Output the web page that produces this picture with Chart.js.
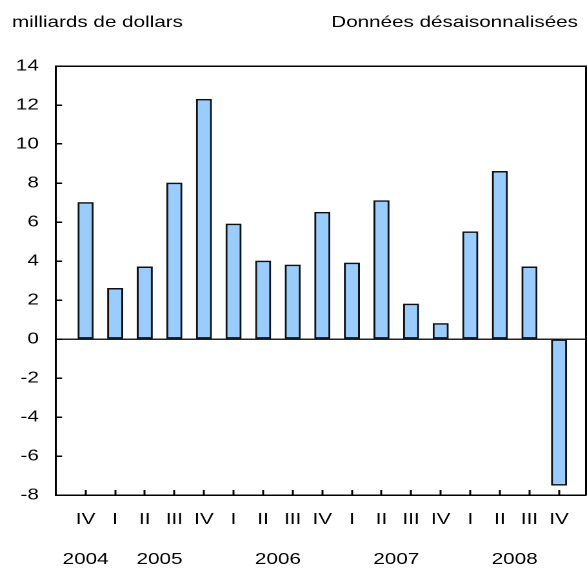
<!DOCTYPE html>
<html>
<head>
<meta charset="utf-8">
<script src="https://cdn.jsdelivr.net/npm/chart.js@4.4.1/dist/chart.umd.min.js"></script>
<style>
    html, body { margin: 0; padding: 0; background: #fff; overflow: hidden; }
    /* le graphique d'origine est étiré horizontalement */
    #wrap { width: 455px; height: 585px; transform: scaleX(1.29); transform-origin: 0 0; }
</style>
</head>
<body>
<div id="wrap"><canvas id="chartSolde" width="455" height="585"></canvas></div>
<script>
const quarters = ['IV', 'I', 'II', 'III', 'IV', 'I', 'II', 'III', 'IV', 'I', 'II', 'III', 'IV', 'I', 'II', 'III', 'IV'];
const periodYear = [2004, 2005, 2005, 2005, 2005, 2006, 2006, 2006, 2006, 2007, 2007, 2007, 2007, 2008, 2008, 2008, 2008];
const values = [7.0, 2.6, 3.7, 8.0, 12.3, 5.9, 4.0, 3.8, 6.5, 3.9, 7.1, 1.8, 0.8, 5.5, 8.6, 3.7, -7.5];
const yTicks = [-8, -6, -4, -2, 0, 2, 4, 6, 8, 10, 12, 14];
const unitLabel = 'milliards de dollars';
const noteLabel = 'Données désaisonnalisées';

const FONT = { family: '"Liberation Sans", Arial, sans-serif', size: 16 };
const INK = '#000';

// position centrale de chaque année sous ses trimestres
const years = [...new Set(periodYear)];
const yearPos = years.map(y => {
    const idx = periodYear.map((p, i) => p === y ? i + 1 : null).filter(v => v !== null);
    return idx.reduce((a, b) => a + b, 0) / idx.length;
});

const headerText = {
    id: 'headerText',
    afterDraw(chart) {
        const ctx = chart.ctx;
        ctx.save();
        ctx.font = FONT.size + 'px ' + FONT.family;
        ctx.fillStyle = INK;
        ctx.textBaseline = 'alphabetic';
        ctx.textAlign = 'left';
        ctx.fillText(unitLabel, 9.3, 27);
        ctx.textAlign = 'right';
        ctx.fillText(noteLabel, 448, 27);
        ctx.restore();
    }
};

// pas de marge automatique sur les axes horizontaux
const noPad = h => s => { s.height = h; s.paddingLeft = 0; s.paddingRight = 0; };

const hiddenEdge = (pos, extra) => Object.assign({
    position: pos,
    min: 0, max: 1,
    ticks: { display: false },
    grid: { drawOnChartArea: false, drawTicks: false },
    border: { display: true, color: INK, width: 1.5 }
}, extra);

new Chart(document.getElementById('chartSolde').getContext('2d'), {
    type: 'bar',
    data: {
        datasets: [{
            label: 'Solde',
            data: values.map((v, i) => ({ x: i + 1, y: v })),
            backgroundColor: '#99ccff',
            borderColor: '#111',
            borderWidth: 1.5,
            borderSkipped: false,
            barThickness: 11.8,
            xAxisID: 'x',
            yAxisID: 'y'
        }]
    },
    options: {
        responsive: false,
        devicePixelRatio: 2,
        animation: false,
        layout: { padding: { top: 66, right: 1, bottom: 15, left: 0 } },
        plugins: { legend: { display: false }, tooltip: { enabled: false } },
        scales: {
            x: {
                type: 'linear',
                position: 'bottom',
                weight: 0,
                offset: false,
                min: 0, max: 17.9,
                afterBuildTicks: s => { s.ticks = quarters.map((q, i) => ({ value: i + 1 })); },
                afterFit: noPad(45),
                ticks: {
                    autoSkip: false, maxRotation: 0, padding: 20,
                    color: INK, font: FONT,
                    callback: v => quarters[v - 1]
                },
                grid: { offset: false, drawOnChartArea: false, drawTicks: true, tickLength: -5, tickColor: INK, tickWidth: 1.5 },
                border: { display: true, color: INK, width: 1.5 }
            },
            xYear: {
                type: 'linear',
                position: 'bottom',
                weight: 1,
                offset: false,
                min: 0, max: 17.9,
                afterBuildTicks: s => { s.ticks = yearPos.map(p => ({ value: p })); },
                afterFit: noPad(30),
                ticks: {
                    autoSkip: false, maxRotation: 0, padding: 10,
                    color: INK, font: FONT,
                    callback: (v, i) => String(years[i])
                },
                grid: { display: false, drawTicks: false },
                border: { display: false }
            },
            xTop: hiddenEdge('top', { afterFit: noPad(0) }),
            y: {
                type: 'linear',
                position: 'left',
                min: yTicks[0], max: yTicks[yTicks.length - 1],
                afterBuildTicks: s => { s.ticks = yTicks.map(v => ({ value: v })); },
                afterFit: s => { s.width = 43.4; },
                ticks: { padding: 18, color: INK, font: FONT },
                grid: {
                    drawOnChartArea: true, drawTicks: true, tickLength: -4.7,
                    color: c => c.tick && c.tick.value === 0 ? '#222' : 'rgba(0,0,0,0)',
                    lineWidth: 1.5, tickColor: INK, tickWidth: 1.5
                },
                border: { display: true, color: INK, width: 1.5 }
            },
            yRight: hiddenEdge('right', { afterFit: s => { s.width = 0; s.paddingTop = 0; s.paddingBottom = 0; } })
        }
    },
    plugins: [headerText]
});
</script>
</body>
</html>
